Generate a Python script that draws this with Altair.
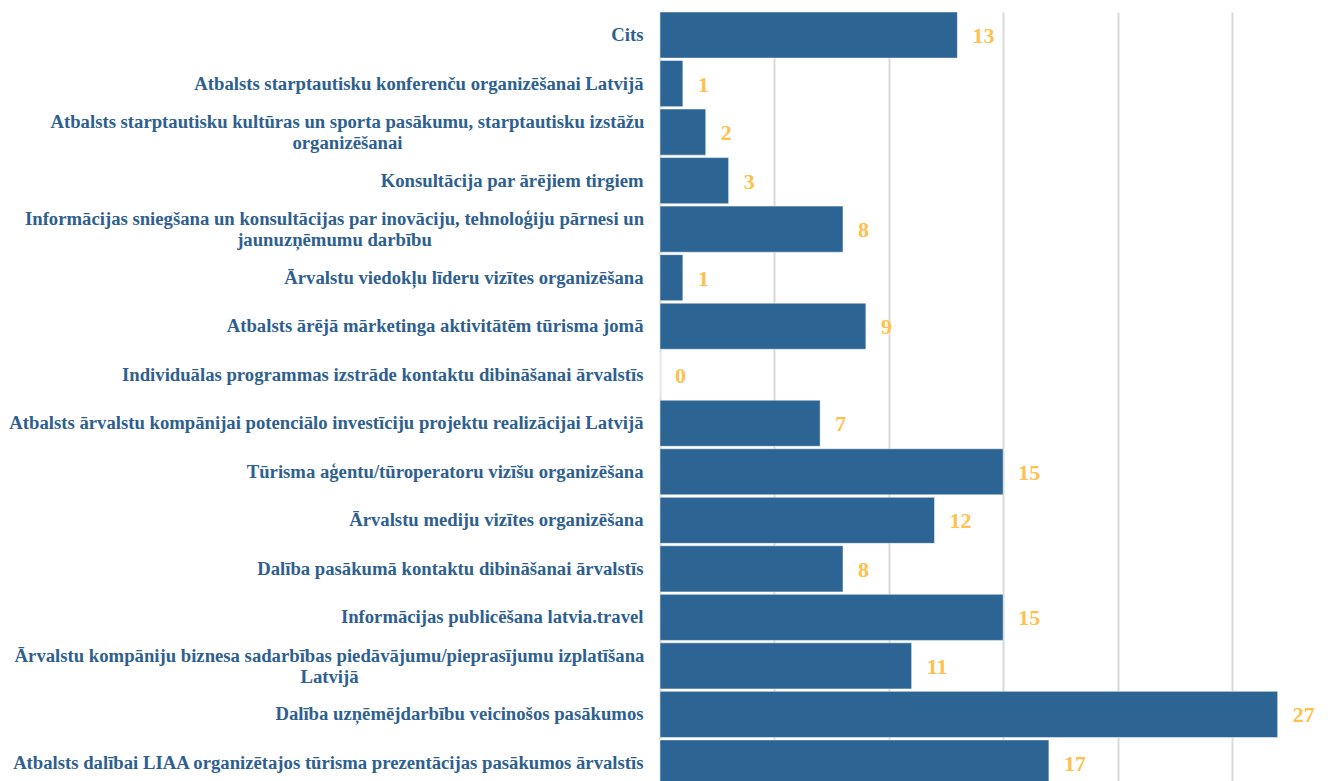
import altair as alt
import pandas as pd

categories = [
    "Cits",
    "Atbalsts starptautisku konferenču organizēšanai Latvijā",
    "Atbalsts starptautisku kultūras un sporta pasākumu, starptautisku izstāžu\norganizēšanai",
    "Konsultācija par ārējiem tirgiem",
    "Informācijas sniegšana un konsultācijas par inovāciju, tehnoloģiju pārnesi un\njaunuzņēmumu darbību",
    "Ārvalstu viedokļu līderu vizītes organizēšana",
    "Atbalsts ārējā mārketinga aktivitātēm tūrisma jomā",
    "Individuālas programmas izstrāde kontaktu dibināšanai ārvalstīs",
    "Atbalsts ārvalstu kompānijai potenciālo investīciju projektu realizācijai Latvijā",
    "Tūrisma aģentu/tūroperatoru vizīšu organizēšana",
    "Ārvalstu mediju vizītes organizēšana",
    "Dalība pasākumā kontaktu dibināšanai ārvalstīs",
    "Informācijas publicēšana latvia.travel",
    "Ārvalstu kompāniju biznesa sadarbības piedāvājumu/pieprasījumu izplatīšana\nLatvijā",
    "Dalība uzņēmējdarbību veicinošos pasākumos",
    "Atbalsts dalībai LIAA organizētajos tūrisma prezentācijas pasākumos ārvalstīs",
]
values = [13, 1, 2, 3, 8, 1, 9, 0, 7, 15, 12, 8, 15, 11, 27, 17]

df = pd.DataFrame({"category": categories, "value": values})

FONT = "Liberation Serif"
BAR = "#2C6494"
LABEL = "#2E5F8F"
VAL = "#FFC04C"

multi = "indexof(datum.value, '\\n') >= 0"
pad_expr = (
    "indexof(datum.value, 'izstāžu') >= 0 ? 313 : "
    "indexof(datum.value, 'jaunuzņēmumu') >= 0 ? 326 : "
    "indexof(datum.value, 'izplatīšana') >= 0 ? 331 : 17"
)

y_enc = alt.Y(
    "category:N",
    sort=None,
    title=None,
    scale=alt.Scale(paddingInner=0.05, paddingOuter=0.0),
    axis=alt.Axis(
        labelExpr="split(datum.label, '\\n')",
        labelFont=FONT,
        labelFontSize=18.7,
        labelFontWeight="bold",
        labelColor=LABEL,
        labelLineHeight=21,
        labelPadding=alt.ExprRef(pad_expr),
        labelAlign=alt.ExprRef(f"{multi} ? 'center' : 'right'"),
        labelOffset=alt.ExprRef(f"{multi} ? -10 : 0"),
        labelLimit=700,
        ticks=False,
        domain=False,
        grid=False,
    ),
)
x_enc = alt.X(
    "value:Q",
    title=None,
    scale=alt.Scale(domain=[0, 29.2], nice=False),
    axis=alt.Axis(
        values=[0, 5, 10, 15, 20, 25],
        labels=False,
        ticks=False,
        domain=False,
        grid=True,
        gridColor="#D9D9D9",
        gridWidth=2,
    ),
)

bars = alt.Chart(df).mark_bar(color=BAR, stroke="#ffffff", strokeWidth=0.5).encode(
    x=x_enc, y=y_enc
)
text = alt.Chart(df).mark_text(
    align="left", baseline="middle", dx=15, dy=1, font=FONT, fontSize=22,
    fontWeight="bold", color=VAL
).encode(
    x=alt.X("value:Q"), y=alt.Y("category:N", sort=None), text="value:Q"
)

chart = alt.layer(bars, text).properties(
    width=668,
    height=774,
    autosize=alt.AutoSizeParams(type="none"),
    padding={"left": 652, "top": 4, "right": 0, "bottom": 0},
).configure_view(stroke=None)

chart.save("out.html", embed_options={"renderer": "svg", "actions": False})
